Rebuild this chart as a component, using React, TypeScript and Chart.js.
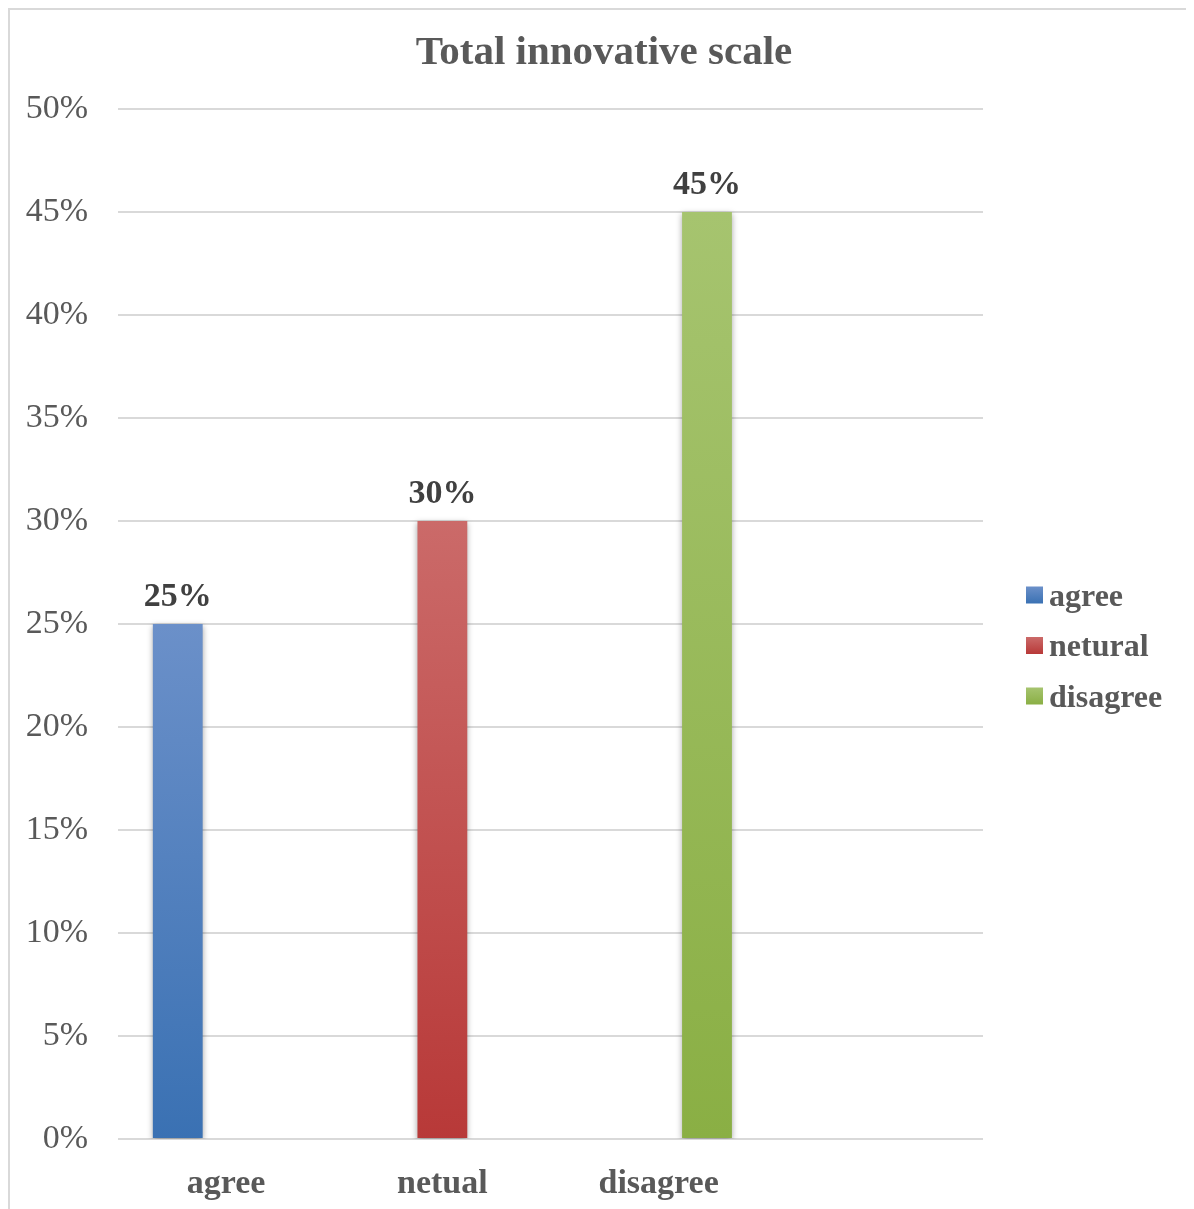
import React, { useEffect, useRef } from "react";
import { Chart, registerables } from "chart.js";

Chart.register(...registerables);

const titleText = "Total innovative scale";
const categories = ["agree", "netual", "disagree", ""];
const seriesNames = ["agree", "netural", "disagree"];
const agreeValues = [25, null, null, null];
const neturalValues = [null, 30, null, null];
const disagreeValues = [null, null, 45, null];
const yTicks = [0, 5, 10, 15, 20, 25, 30, 35, 40, 45, 50];
const seriesColors = [
  ["#6b90c9", "#3a71b3"],
  ["#cb6a69", "#b83938"],
  ["#a6c46f", "#8aaf44"],
];

const FONT = "'Liberation Serif', 'Times New Roman', serif";
const TEXT = "#595959";

function barGradient(colors: string[]) {
  return (ctx: any) => {
    const chart = ctx.chart;
    const y = chart.scales && chart.scales.y;
    const v = ctx.raw;
    if (!y || v == null || !chart.chartArea) return colors[1];
    const top = y.getPixelForValue(v);
    const bottom = y.getPixelForValue(0);
    const g = chart.ctx.createLinearGradient(0, top, 0, bottom);
    g.addColorStop(0, colors[0]);
    g.addColorStop(1, colors[1]);
    return g;
  };
}

const shadowPlugin = {
  id: "barShadow",
  beforeDatasetsDraw(chart: any) {
    const c = chart.ctx;
    c.save();
    c.shadowColor = "rgba(0,0,0,0.35)";
    c.shadowBlur = 6;
    c.shadowOffsetX = 0;
    c.shadowOffsetY = 2;
  },
  afterDatasetsDraw(chart: any) {
    chart.ctx.restore();
  },
};

const labelPlugin = {
  id: "valueLabels",
  afterDatasetsDraw(chart: any) {
    const c = chart.ctx;
    c.save();
    c.font = `bold 34px ${FONT}`;
    c.fillStyle = "#404040";
    c.textAlign = "center";
    c.textBaseline = "alphabetic";
    chart.data.datasets.forEach((ds: any, i: number) => {
      const meta = chart.getDatasetMeta(i);
      meta.data.forEach((el: any, j: number) => {
        const v = ds.data[j];
        if (v == null) return;
        c.fillText(`${v}%`, el.x, el.y - 18);
      });
    });
    c.restore();
  },
};

const titlePlugin = {
  id: "centerTitle",
  afterDraw(chart: any) {
    const c = chart.ctx;
    c.save();
    c.font = `bold 41px ${FONT}`;
    c.fillStyle = TEXT;
    c.textAlign = "center";
    c.textBaseline = "alphabetic";
    c.fillText(titleText, chart.width / 2 + 2, 54);
    c.restore();
  },
};

const legendPlugin = {
  id: "sideLegend",
  afterDraw(chart: any) {
    const c = chart.ctx;
    const area = chart.chartArea;
    const x0 = area.right + 43;
    const mid = (area.top + area.bottom) / 2 + 32;
    const gap = 50.5;
    const n = chart.data.datasets.length;
    c.save();
    c.font = `bold 32px ${FONT}`;
    c.textAlign = "left";
    c.textBaseline = "alphabetic";
    chart.data.datasets.forEach((ds: any, i: number) => {
      const base = mid + (i - (n - 1) / 2) * gap;
      const g = c.createLinearGradient(0, base - 19, 0, base - 2);
      g.addColorStop(0, seriesColors[i][0]);
      g.addColorStop(1, seriesColors[i][1]);
      c.fillStyle = g;
      c.fillRect(x0, base - 19, 17, 17);
      c.fillStyle = TEXT;
      c.fillText(ds.label, x0 + 23, base);
    });
    c.restore();
  },
};

export default function App() {
  const ref = useRef<HTMLCanvasElement>(null);
  useEffect(() => {
    if (!ref.current) return;
    const valueSets = [agreeValues, neturalValues, disagreeValues];
    const chart = new Chart(ref.current, {
      type: "bar",
      data: {
        labels: categories,
        datasets: seriesNames.map((name, i) => ({
          label: name,
          data: valueSets[i],
          backgroundColor: barGradient(seriesColors[i]),
          borderWidth: 0,
          categoryPercentage: 0.671,
          barPercentage: 1.03,
        })),
      },
      options: {
        animation: false,
        responsive: false,
        devicePixelRatio: 1,
        layout: { padding: { left: 0, right: 211, top: 99, bottom: 0 } },
        plugins: {
          legend: { display: false },
          tooltip: { enabled: false },
          title: { display: false },
        },
        scales: {
          x: {
            grid: { display: false },
            border: { display: false },
            ticks: {
              color: TEXT,
              padding: 17,
              font: { family: FONT, size: 34, weight: "bold" },
            },
            afterFit: (s: any) => {
              s.height = 70;
            },
          },
          y: {
            min: 0,
            max: 50,
            afterBuildTicks: (s: any) => {
              s.ticks = yTicks.map((v) => ({ value: v }));
            },
            grid: { color: "#d9d9d9", lineWidth: 2, drawTicks: false },
            border: { display: false },
            ticks: {
              color: TEXT,
              padding: 30,
              font: { family: FONT, size: 34 },
              callback: (v: any) => `${v}%`,
            },
            afterFit: (s: any) => {
              s.width = 108;
            },
          },
        },
      },
      plugins: [shadowPlugin, labelPlugin, titlePlugin, legendPlugin],
    });
    return () => chart.destroy();
  }, []);
  return (
    <div
      style={{
        width: 1186,
        height: 1201,
        boxSizing: "border-box",
        borderTop: "2px solid #d9d9d9",
        borderLeft: "2px solid #d9d9d9",
        background: "#fff",
      }}
    >
      <canvas ref={ref} width={1184} height={1199} style={{ display: "block" }} />
    </div>
  );
}
